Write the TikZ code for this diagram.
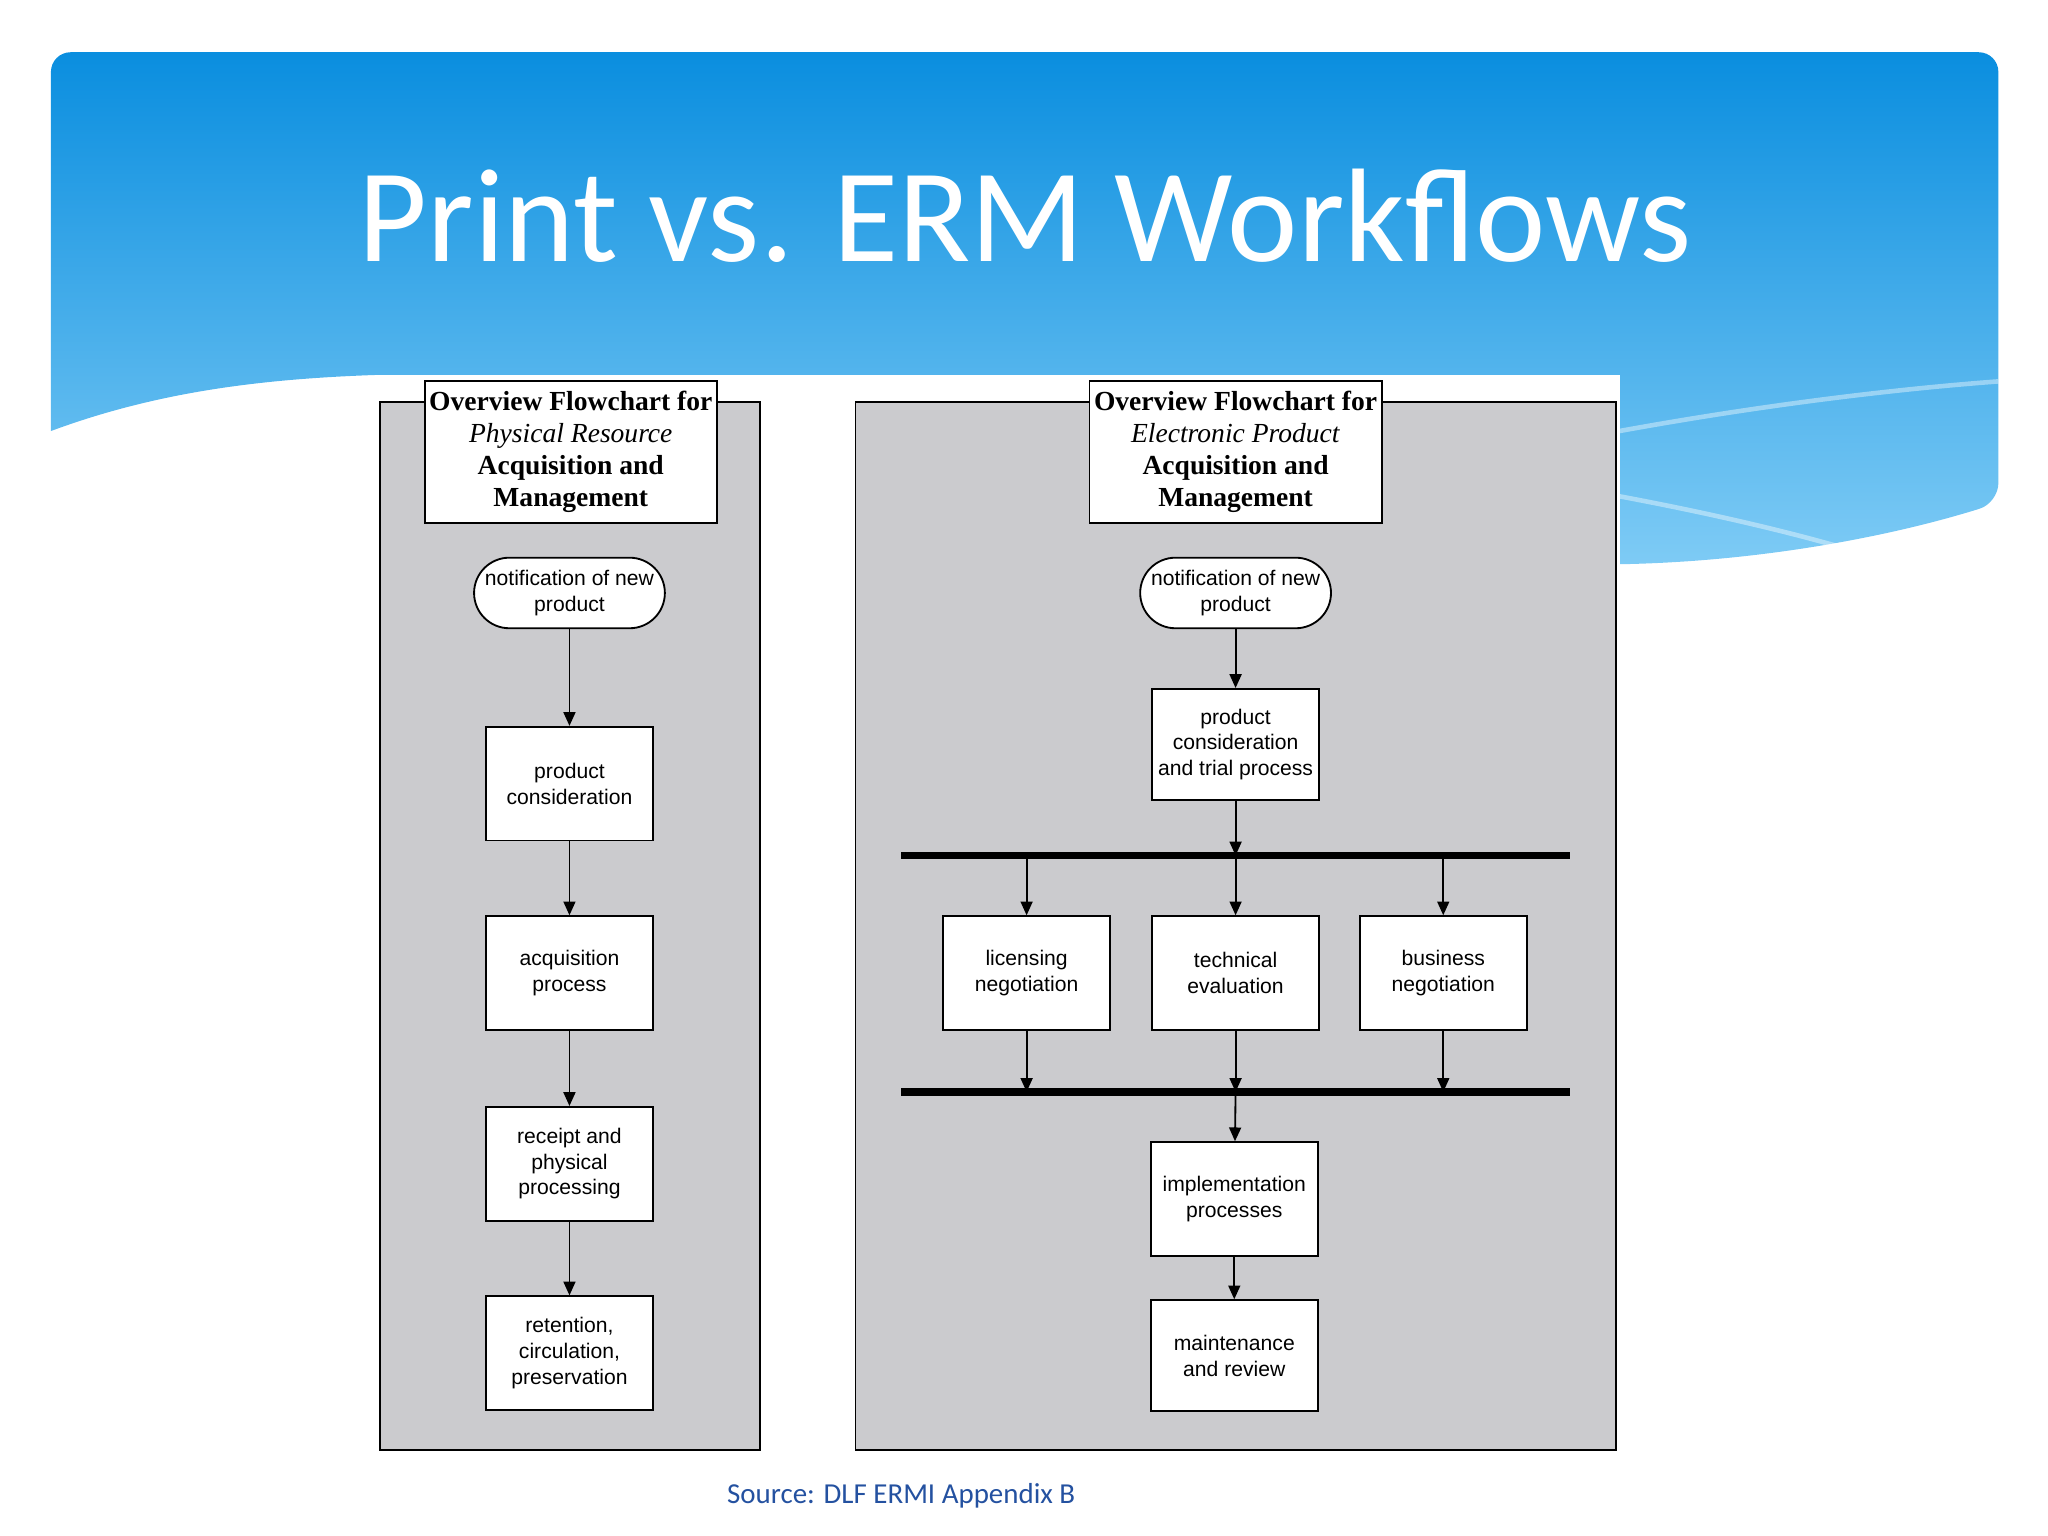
\documentclass[tikz,border=0pt]{standalone}
\usepackage{fontspec}
\setmainfont{Liberation Sans}
\newfontfamily\slidefont{Carlito}
\newfontfamily\flowserif{Liberation Serif}
\usetikzlibrary{arrows.meta,positioning}
\definecolor{bannertop}{HTML}{0A8EDF}
\definecolor{bannerbot}{HTML}{7ECBF5}
\definecolor{panelgray}{HTML}{CBCBCE}
\definecolor{srcblue}{HTML}{2451A0}
\begin{document}
\begin{tikzpicture}[x=0.01cm,y=-0.01cm,
  panel/.style={draw=black,fill=panelgray,line width=0.4pt},
  head/.style={draw=black,fill=white,minimum width=2.18cm,minimum height=1.09cm,align=center,font=\flowserif\fontsize{6}{7}\selectfont,inner sep=1pt},
  task/.style={draw=black,fill=white,minimum width=1.28cm,minimum height=0.87cm,align=center,font=\fontsize{4.6}{5.6}\selectfont,inner sep=1pt},
  start/.style={task,minimum width=1.46cm,minimum height=0.54cm,rounded corners=0.27cm},
  arr/.style={-{Triangle[length=3pt,width=2.6pt]},line width=0.4pt},
  bar/.style={line width=1.6pt}]
\useasboundingbox (0,0) rectangle (1568,1176);
% banner
\shade[top color=bannertop,bottom color=bannerbot,rounded corners=0.15cm]
  (39,330) -- (39,40) -- (1530,40) -- (1530,385) [sharp corners]
  .. controls (1450,410) and (1350,430) .. (1240,432) -- (1240,287) -- (290,287)
  .. controls (200,290) and (120,300) .. (39,330);
\draw[white,opacity=0.4,line width=1pt] (1240,380) .. controls (1320,395) and (1380,410) .. (1420,422);
\draw[white,opacity=0.4,line width=1pt] (1240,330) .. controls (1350,310) and (1450,298) .. (1530,292);
\node[text=white,font=\slidefont\fontsize{29}{32}\selectfont] (title) at (785,165) {Print vs. ERM Workflows};
% panels
\fill[white] (288,287) rectangle (1240,1112);
\draw[panel] (291,308) rectangle (582,1110);
\draw[panel] (655,308) rectangle (1237,1110);
% print workflow
\node[head] (phead) at (437,346) {\textbf{Overview Flowchart for}\\\textit{Physical Resource}\\\textbf{Acquisition and}\\\textbf{Management}};
\node[start] (pnote) at (436,454) {notification of new\\product};
\node[task] (pcons) at (436,600) {product\\consideration};
\node[task] (pacq) at (436,745) {acquisition\\process};
\node[task] (prec) at (436,891) {receipt and\\physical\\processing};
\node[task] (pret) at (436,1036) {retention,\\circulation,\\preservation};
\draw[arr] (pnote) -- (pcons);
\draw[arr] (pcons) -- (pacq);
\draw[arr] (pacq) -- (prec);
\draw[arr] (prec) -- (pret);
% electronic workflow
\node[head] (ehead) at (946,346) {\textbf{Overview Flowchart for}\\\textit{Electronic Product}\\\textbf{Acquisition and}\\\textbf{Management}};
\node[start] (enote) at (946,454) {notification of new\\product};
\node[task,minimum height=0.85cm] (etrial) at (946,570) {product\\consideration\\and trial process};
\coordinate (bara) at (946,655);
\coordinate (barb) at (946,836);
\draw[bar] (690,655) -- (1202,655);
\draw[bar] (690,836) -- (1202,836);
\node[task] (elic) at (786,745) {licensing\\negotiation};
\node[task] (etech) at (946,745) {technical\\evaluation};
\node[task] (ebus) at (1105,745) {business\\negotiation};
\node[task] (eimpl) at (945,918) {implementation\\processes};
\node[task,minimum height=0.85cm] (emaint) at (945,1038) {maintenance\\and review};
\draw[arr] (enote) -- (etrial);
\draw[arr] (etrial) -- (bara);
\foreach \n in {elic,etech,ebus}{
  \draw[arr] (\n |- bara) -- (\n);
  \draw[arr] (\n) -- (\n |- barb);
}
\draw[arr] (barb) -- (eimpl);
\draw[arr] (eimpl) -- (emaint);
% source
\node[text=srcblue,font=\slidefont\fontsize{6.3}{7}\selectfont] (source) at (690,1145) {Source: DLF ERMI Appendix B};
\end{tikzpicture}
\end{document}
